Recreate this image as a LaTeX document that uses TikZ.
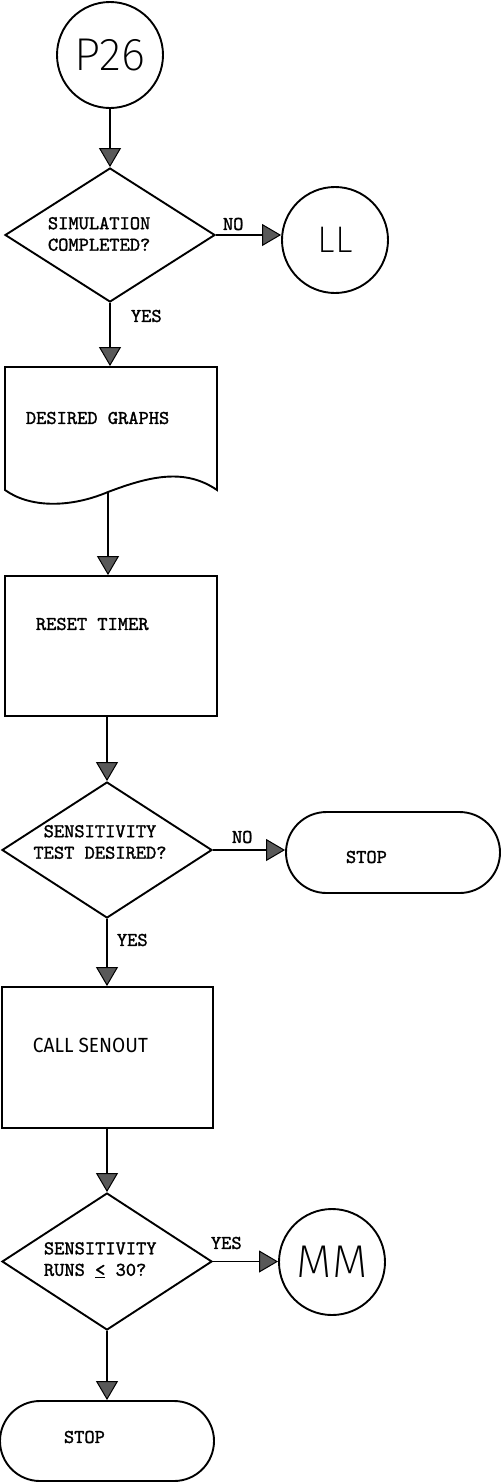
\documentclass[tikz,border=0pt]{standalone}
\usepackage{fontspec}
\usetikzlibrary{arrows.meta,shapes.geometric,shapes.misc}
% typewriter face for the box texts, light sans for connectors
\newfontfamily\twfont{lmmono10-regular.otf}[FakeBold=1.5]
\newfontfamily\plotfont{Fira Sans ExtraLight}
\newfontfamily\callfont{Fira Sans}

\begin{document}
\begin{tikzpicture}[x=1pt,y=-1pt,line width=1.9pt,
  flow/.style={draw=black,line width=1.8pt,-{Triangle[length=19pt,width=22pt,fill=black!65,line width=1pt]}},
  conn/.style={circle,draw,minimum size=106pt,inner sep=0pt,font=\plotfont\fontsize{46}{46}\selectfont},
  decision/.style={diamond,draw,inner sep=0pt,minimum width=210pt,minimum height=136pt},
  procbox/.style={rectangle,draw,inner sep=0pt,minimum width=212pt,minimum height=140pt},
  term/.style={rounded rectangle,draw,inner sep=0pt,minimum width=214pt,minimum height=81pt},
  tw/.style={font=\twfont\fontsize{19.5}{21.5}\selectfont,inner sep=0pt,anchor=west},
  plotlbl/.style={font=\callfont\fontsize{20.5}{22}\selectfont,inner sep=0pt,anchor=west}
]
\useasboundingbox (0,0) rectangle (501,1484);

% connectors (circles)
\node[conn] (p26) at (110,55) {P26};
\node[conn,font=\plotfont\fontsize{37}{37}\selectfont] (ll) at (335,240) {LL};
\node[conn] (mm) at (332,1262) {MM};

% decisions
\node[decision,minimum height=134pt] (d1) at (110,235) {};
\node[decision] (d2) at (107,850) {};
\node[decision,minimum height=137pt] (d3) at (107,1261.5) {};

% document shape with wavy lower edge
\node[rectangle,inner sep=0pt,minimum width=212pt,minimum height=124pt] (doc) at (111,429) {};
\draw (5,367) -- (217,367) -- (217,490)
  .. controls (185,468) and (150,476) .. (108,492)
  .. controls (70,508) and (30,508) .. (5,490) -- cycle;
\coordinate (docout) at (108,492);

% process boxes
\node[procbox] (reset) at (111,646) {};
\node[procbox,minimum width=211pt,minimum height=141pt] (senout) at (107.5,1057.5) {};

% terminals
\node[term] (stop1) at (393,852.5) {};
\node[term,minimum height=80pt] (stop2) at (107,1441) {};

% texts
\node[tw,align=left] (t1) at (47,234) {SIMULATION\\COMPLETED?};
\node[tw] (t2) at (25,418) {DESIRED GRAPHS};
\node[tw] (t3) at (35,624) {RESET TIMER};
\node[tw,align=center,anchor=center] (t4) at (100,842) {SENSITIVITY\\TEST DESIRED?};
\node[plotlbl] (t5) at (32,1045) {\scalebox{0.93}[1]{CALL SENOUT}};
\node[tw,align=left] (t6) at (43,1260) {SENSITIVITY\\RUNS \underline{<} 30?};
\node[tw] (t7) at (345,857) {STOP};
\node[tw] (t8) at (63,1437) {STOP};

% branch labels
\node[tw] (l1) at (222,224) {NO};
\node[tw] (l2) at (130,316) {YES};
\node[tw] (l3) at (231,837) {NO};
\node[tw] (l4) at (116,940) {YES};
\node[tw] (l5) at (210,1243) {YES};

% flow lines
\draw[flow] (p26.south) -- (d1.north);
\draw[flow] (d1.east) -- (d1.east -| ll.west);
\draw[flow] (d1.south) -- (d1.south |- doc.north);
\draw[flow] (docout) -- (docout |- reset.north);
\draw[flow] (d2.north |- reset.south) -- (d2.north);
\draw[flow] (d2.east) -- (d2.east -| stop1.west);
\draw[flow] (d2.south) -- (d2.south |- senout.north);
\draw[flow] (d3.north |- senout.south) -- (d3.north);
\draw[flow] (d3.east) -- (d3.east -| mm.west);
\draw[flow] (d3.south) -- (stop2.north);
\end{tikzpicture}
\end{document}
